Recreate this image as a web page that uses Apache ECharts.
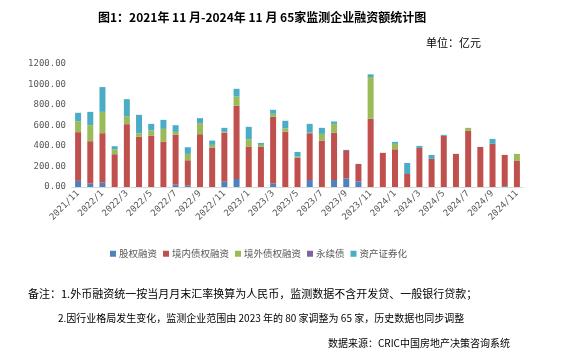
<!DOCTYPE html>
<html><head><meta charset="utf-8">
<script src="https://cdn.jsdelivr.net/npm/echarts@6/dist/echarts.min.js"></script>
<style>html,body{margin:0;padding:0;background:#fff}#c{width:563px;height:355px}</style>
</head><body><div id="c"></div>
<script>
const categories = ["2021/11","2021/12","2022/1","2022/2","2022/3","2022/4","2022/5","2022/6","2022/7","2022/8","2022/9","2022/10","2022/11","2022/12","2023/1","2023/2","2023/3","2023/4","2023/5","2023/6","2023/7","2023/8","2023/9","2023/10","2023/11","2023/12","2024/1","2024/2","2024/3","2024/4","2024/5","2024/6","2024/7","2024/8","2024/9","2024/10","2024/11"];
const equity    = [60,33,42,0,0,0,0,0,23,13,0,0,52,78,0,0,33,0,0,68,0,68,85,55,0,0,0,0,0,0,0,0,0,0,0,8,0];
const domestic  = [475,414,483,320,613,492,499,440,486,248,515,385,479,714,391,391,652,541,284,457,453,463,267,170,665,333,368,127,381,274,499,323,548,391,421,305,254];
const offshore  = [107,156,208,48,78,33,52,127,29,62,108,26,7,91,75,20,29,30,13,6,65,85,0,0,408,0,53,0,0,0,0,0,29,0,0,0,69];
const perpetual = [0,0,0,0,0,0,0,0,0,0,0,0,0,0,0,0,0,0,0,0,0,0,10,0,0,0,0,0,0,0,0,0,0,0,0,0,0];
const abs       = [82,130,242,30,166,179,65,88,65,65,49,42,39,75,121,19,39,75,45,85,59,23,0,0,26,0,19,108,20,39,10,0,0,0,48,0,0];
const seriesNames = ["股权融资","境内债权融资","境外债权融资","永续债","资产证券化"];
const colors = ["#4F81BD","#C0504D","#9BBB59","#8064A2","#4BACC6"];
const yTicks = [0,200,400,600,800,1000,1200];

const chart = echarts.init(document.getElementById('c'));
const dataSets = [equity, domestic, offshore, perpetual, abs];
const txt = {color:'#000', fontSize:10, fontWeight:'normal', fontFamily:'Noto Sans CJK SC'};
chart.setOption({
  animation:false,
  textStyle:{fontFamily:'Noto Sans CJK SC'},
  title:[
    {text:'图1：2021年 11 月-2024年 11 月 65家监测企业融资额统计图', left:93, top:6,
     textStyle:{fontSize:12, fontWeight:'bold', color:'#000', fontFamily:'Noto Sans CJK SC'}},
    {text:'单位：亿元', left:421, top:32, textStyle:{fontSize:11, fontWeight:'normal', color:'#000', fontFamily:'Noto Sans CJK SC'}},
    {text:'备注：1.外币融资统一按当月月末汇率换算为人民币，监测数据不含开发贷、一般银行贷款；', left:23, top:283, textStyle:Object.assign({},txt,{fontSize:11})},
    {text:'2.因行业格局发生变化，监测企业范围由 2023 年的 80 家调整为 65 家，历史数据也同步调整', left:53, top:308, textStyle:txt},
    {text:'数据来源：CRIC中国房地产决策咨询系统', right:48, top:333, textStyle:txt}
  ],
  legend:{data:seriesNames, top:244, left:105, itemWidth:6, itemHeight:6, itemGap:6, icon:'rect',
    textStyle:{fontSize:9.5, color:'#595959', fontFamily:'Noto Sans CJK SC', padding:[0,0,0,-2]}},
  grid:{left:72, right:40, top:64, bottom:168},
  xAxis:{type:'category', data:categories,
    axisLine:{lineStyle:{color:'#d9d9d9'}},
    axisTick:{interval:1, length:4, lineStyle:{color:'#d9d9d9'}},
    axisLabel:{interval:1, rotate:45, fontSize:9, color:'#595959', fontFamily:'DejaVu Sans Mono', margin:5}},
  yAxis:{type:'value', min:yTicks[0], max:yTicks[yTicks.length-1], interval:200,
    splitLine:{show:false}, axisLine:{show:false}, axisTick:{show:false},
    axisLabel:{fontSize:9, color:'#595959', fontFamily:'DejaVu Sans Mono', margin:6, formatter:v=>v.toFixed(2)}},
  series: seriesNames.map((n,i)=>({name:n, type:'bar', stack:'t', data:dataSets[i], barWidth:6,
    itemStyle:{color:colors[i]}}))
});
</script></body></html>
